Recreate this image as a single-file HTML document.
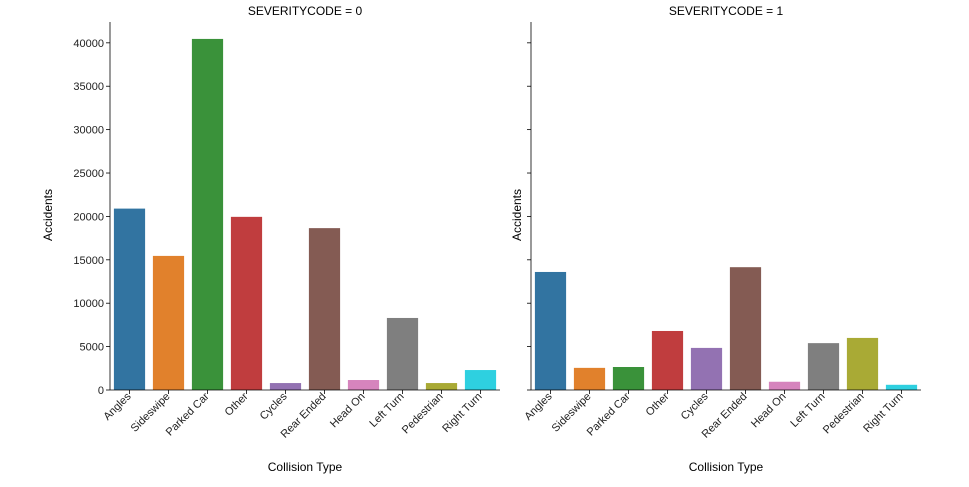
<!DOCTYPE html>
<html><head><meta charset="utf-8"><style>
html,body{margin:0;padding:0;background:#fff;}
svg{display:block;font-family:"Liberation Sans","DejaVu Sans",sans-serif;}
</style></head><body>
<svg id="chart" width="969" height="487" viewBox="0 0 969 487"></svg>
<script>
const categories=["Angles","Sideswipe","Parked Car","Other","Cycles","Rear Ended","Head On","Left Turn","Pedestrian","Right Turn"];
const severity0=[20900,15450,40450,19950,800,18650,1150,8300,800,2300];
const severity1=[13600,2550,2650,6800,4850,14150,950,5400,6000,600];
const yTicks=[0,5000,10000,15000,20000,25000,30000,35000,40000];
const panelTitles=["SEVERITYCODE = 0","SEVERITYCODE = 1"];
const colors=["#3274a1","#e1812c","#3a923a","#c03d3e","#9372b2","#845b53","#d684bd","#7f7f7f","#a9aa35","#2ed0e0"];
const NS="http://www.w3.org/2000/svg";
const svg=document.getElementById('chart');
function mk(tag,attrs,parent,text){const e=document.createElementNS(NS,tag);for(const k in attrs)e.setAttribute(k,attrs[k]);if(text!==undefined)e.textContent=text;(parent||svg).appendChild(e);return e;}
const y0=390,yTop=22,ymax=42400;
function yScale(v){return y0-(v/ymax)*(y0-yTop);}
const panels=[{x0:110,x1:500,data:severity0,labels:true},{x0:531,x1:921,data:severity1,labels:false}];
panels.forEach((p,pi)=>{
  const g=mk('g',{});
  
  
  const step=(p.x1-p.x0)/categories.length;
  const bw=step*0.8;
  p.data.forEach((v,i)=>{
    const x=p.x0+step*i+(step-bw)/2;
    const r=mk('rect',{x:x,y:yScale(v),width:bw,height:y0-yScale(v),fill:colors[i]},g);
    
    
    const cx=p.x0+step*(i+0.5);
    mk('line',{x1:cx,x2:cx,y1:y0,y2:y0+4,stroke:'#000','stroke-width':0.8},g);
    const lx=cx+2,ly=y0+7;
    const t=mk('text',{x:lx,y:ly,'font-size':11,'text-anchor':'end',fill:'#222',transform:'rotate(-45 '+lx+' '+ly+')'},g,categories[i]);
    
    
  });
  mk('line',{x1:p.x0,x2:p.x0,y1:yTop,y2:y0,stroke:'#000','stroke-width':0.8},g);
  mk('line',{x1:p.x0,x2:p.x1,y1:y0,y2:y0,stroke:'#000','stroke-width':0.8},g);
  yTicks.forEach(t=>{
    const y=yScale(t);
    mk('line',{x1:p.x0-4,x2:p.x0,y1:y,y2:y,stroke:'#000','stroke-width':0.8},g);
    if(p.labels){const l=mk('text',{x:p.x0-6,y:y+4,'font-size':11,'text-anchor':'end',fill:'#222'},g,String(t));
      
      }
  });
  const ax=p.x0-(p.labels?58:10);
  const yt=mk('text',{x:ax,y:215,'font-size':12,'text-anchor':'middle',transform:'rotate(-90 '+ax+' 215)'},g,'Accidents');
  
  
  const xt=mk('text',{x:(p.x0+p.x1)/2,y:471,'font-size':12,'text-anchor':'middle'},g,'Collision Type');
  
  
  const tt=mk('text',{x:(p.x0+p.x1)/2,y:15,'font-size':12,'text-anchor':'middle'},g,panelTitles[pi]);
  
  
});
</script>
</body></html>
